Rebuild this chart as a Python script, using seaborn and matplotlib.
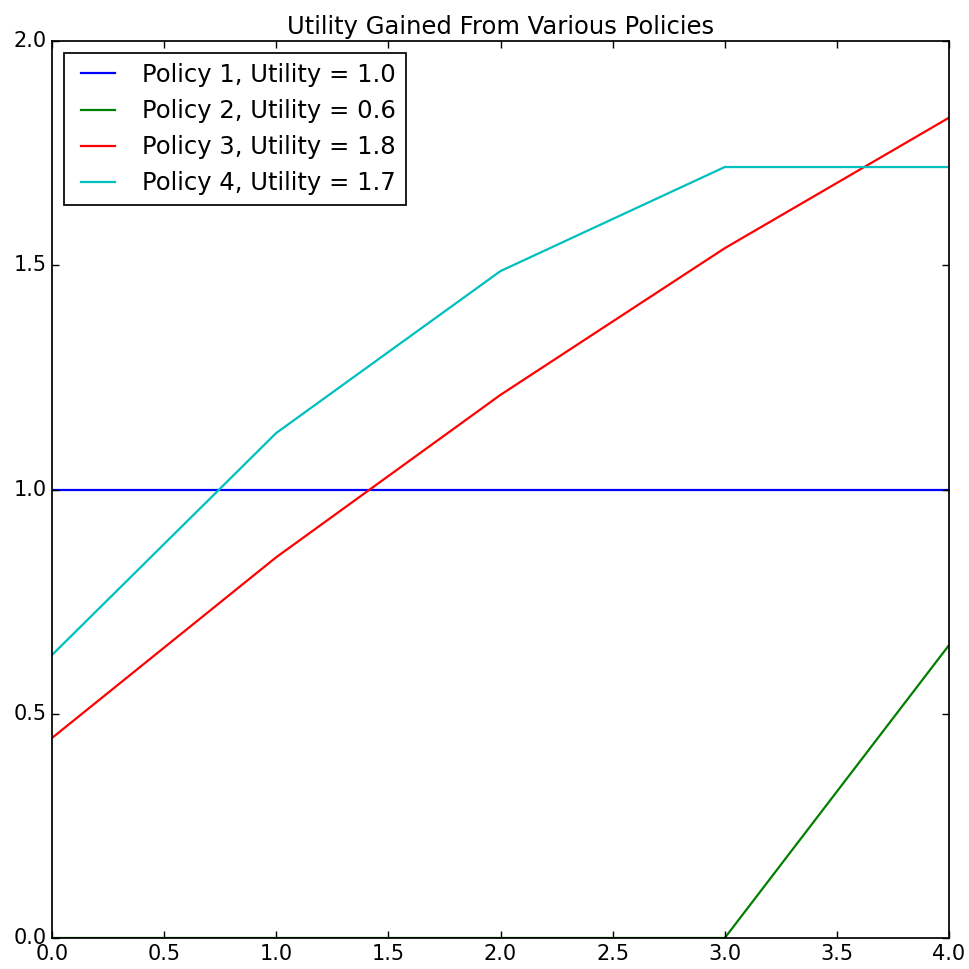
import matplotlib
matplotlib.use("Agg")
import matplotlib.pyplot as plt
import seaborn as sns
import pandas as pd

steps = [0, 1, 2, 3, 4]
policy1 = [1.0, 1.0, 1.0, 1.0, 1.0]
policy2 = [0.0, 0.0, 0.0, 0.0, 0.653]
policy3 = [0.446, 0.849, 1.211, 1.538, 1.829]
policy4 = [0.631, 1.126, 1.487, 1.719, 1.719]
labels = ["Policy 1, Utility = 1.0", "Policy 2, Utility = 0.6",
          "Policy 3, Utility = 1.8", "Policy 4, Utility = 1.7"]
colors = ["#0000ff", "#008000", "#ff0000", "#00bfbf"]

rows = []
for lab, vals in zip(labels, [policy1, policy2, policy3, policy4]):
    for s, v in zip(steps, vals):
        rows.append({"step": s, "utility": v, "policy": lab})
df = pd.DataFrame(rows)

plt.style.use("classic")
plt.rcParams["font.family"] = ["DejaVu Sans"]
plt.rcParams["axes.linewidth"] = 1.25
plt.rcParams["xtick.major.size"] = 5
plt.rcParams["ytick.major.size"] = 5
plt.rcParams["xtick.major.width"] = 1.0
plt.rcParams["ytick.major.width"] = 1.0

fig = plt.figure(figsize=(9.7, 9.69), dpi=100, facecolor="white")
ax = fig.add_axes([52/970, 1-938/969, (949-52)/970, (938-41)/969])
sns.lineplot(data=df, x="step", y="utility", hue="policy", palette=colors,
             ax=ax, linewidth=1.6, legend=True)
ax.set_xlim(0, 4)
ax.set_ylim(0, 2)
ax.set_xticks([0, 0.5, 1, 1.5, 2, 2.5, 3, 3.5, 4])
ax.set_yticks([0, 0.5, 1.0, 1.5, 2.0])
ax.set_xlabel("")
ax.set_ylabel("")
ax.set_title("Utility Gained From Various Policies", fontsize=17.5)
ax.tick_params(labelsize=15)
leg = ax.legend(loc="upper left", fontsize=17.5)
leg.get_frame().set_edgecolor("black")
leg.get_frame().set_linewidth(1.25)
fig.savefig("out.png", dpi=100, facecolor="white")
